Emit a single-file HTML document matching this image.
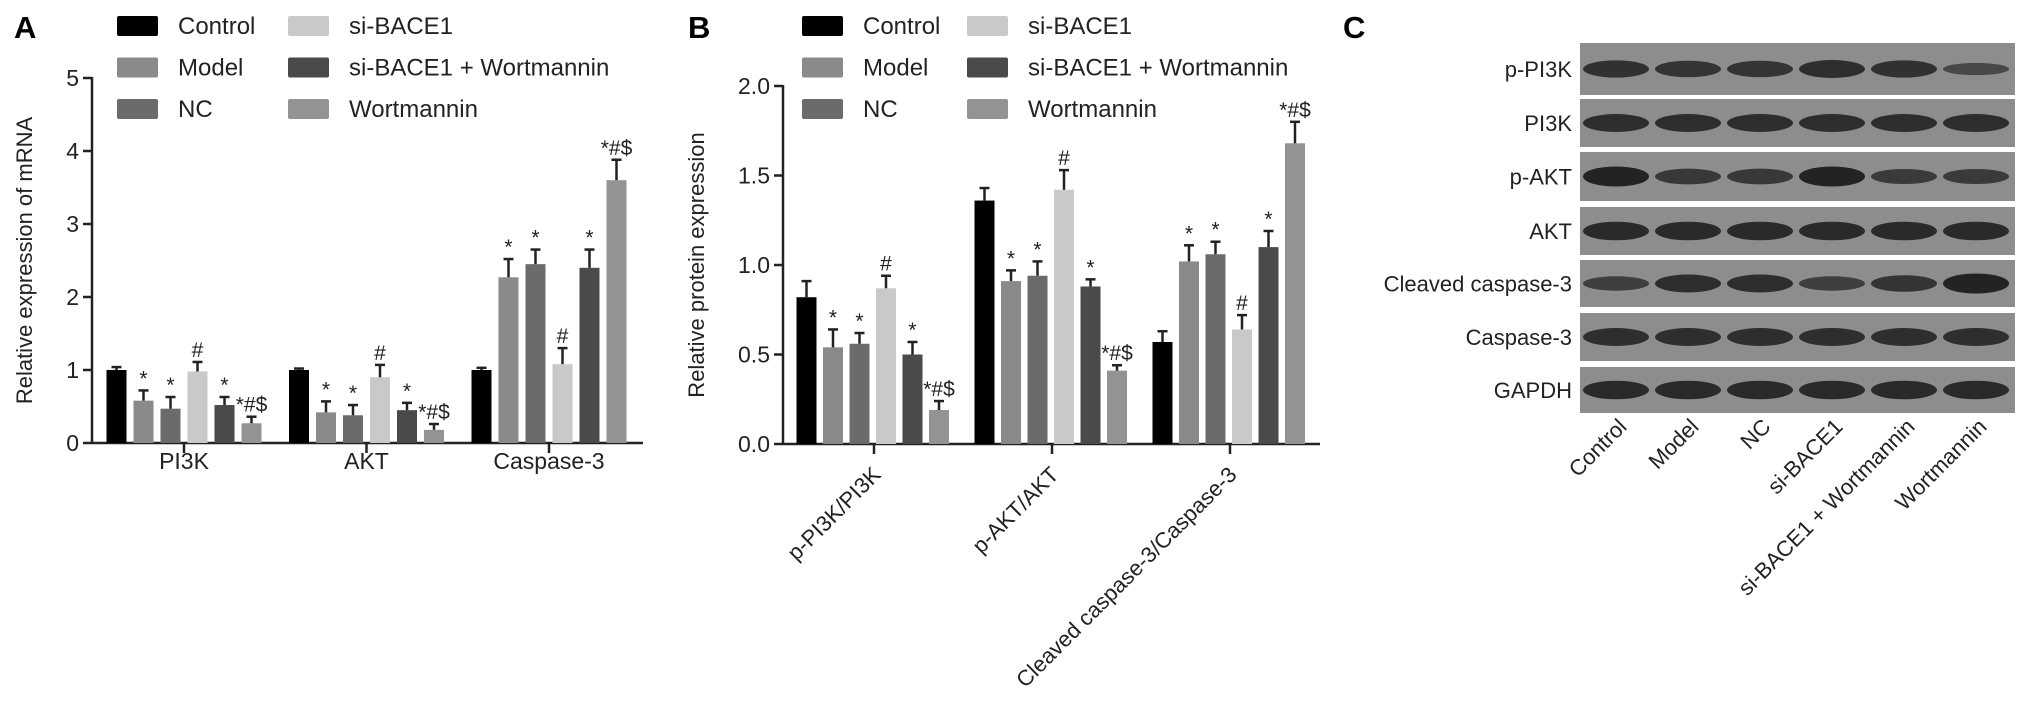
<!DOCTYPE html>
<html><head><meta charset="utf-8"><style>
html,body{margin:0;padding:0;background:#fff;}
svg{display:block;font-family:"Liberation Sans",Arial,sans-serif;}
</style></head><body>
<svg id="fig" width="2031" height="711" viewBox="0 0 2031 711" xmlns="http://www.w3.org/2000/svg"></svg>
<script>
const groups = ["Control","Model","NC","si-BACE1","si-BACE1 + Wortmannin","Wortmannin"];
const colors = ["#000000","#8a8a8a","#6b6b6b","#c9c9c9","#4a4a4a","#939393"];
const catsA = ["PI3K","AKT","Caspase-3"];
const valsA = [[1.0,0.58,0.47,0.98,0.52,0.27],[1.0,0.42,0.38,0.9,0.45,0.18],[1.0,2.27,2.45,1.08,2.4,3.6]];
const errA = [[0.04,0.14,0.16,0.13,0.11,0.09],[0.02,0.15,0.14,0.17,0.1,0.08],[0.03,0.25,0.2,0.22,0.25,0.28]];
const ticksA = [0,1,2,3,4,5];
const catsB = ["p-PI3K/PI3K","p-AKT/AKT","Cleaved caspase-3/Caspase-3"];
const valsB = [[0.82,0.54,0.56,0.87,0.5,0.19],[1.36,0.91,0.94,1.42,0.88,0.41],[0.57,1.02,1.06,0.64,1.1,1.68]];
const errB = [[0.09,0.1,0.06,0.07,0.07,0.05],[0.07,0.06,0.08,0.11,0.04,0.03],[0.06,0.09,0.07,0.08,0.09,0.12]];
const ticksB = [0.0,0.5,1.0,1.5,2.0];
const marks = ["","*","*","#","*","*#$"];
const blotRows = ["p-PI3K","PI3K","p-AKT","AKT","Cleaved caspase-3","Caspase-3","GAPDH"];
const bandInt = [[0.8,0.75,0.75,0.85,0.8,0.45],[0.85,0.85,0.85,0.85,0.85,0.85],[1.0,0.7,0.7,1.0,0.65,0.65],[0.9,0.9,0.9,0.9,0.9,0.9],[0.6,0.85,0.85,0.6,0.75,1.0],[0.85,0.85,0.85,0.85,0.85,0.85],[0.9,0.9,0.9,0.9,0.9,0.9]];

const NS="http://www.w3.org/2000/svg";
const svg=document.getElementById('fig');
function el(tag,attrs,parent,text){const e=document.createElementNS(NS,tag);for(const k in attrs)e.setAttribute(k,attrs[k]);if(text!==undefined)e.textContent=text;(parent||svg).appendChild(e);return e;}

function panel(cfg){
  const g=el('g',{});
  
  
  const y=v=>cfg.y0-(v/cfg.max)*(cfg.y0-cfg.yTop);
  const L=el('text',{x:cfg.letterX,y:38,'font-size':31,'font-weight':'bold'},g,cfg.letter);
  
  
  groups.forEach((gname,i)=>{
    const col=Math.floor(i/3),row=i%3;
    const sx=col?cfg.leg2:cfg.leg1, cy=26+row*41.5;
    const item=el('g',{},g);
    
    
    el('rect',{x:sx,y:cy-10,width:41,height:20,rx:2,fill:colors[i]},item);
    el('text',{x:sx+61,y:cy+8,'font-size':24,fill:'#222'},item,gname);
  });
  const ax=el('g',{stroke:'#222','stroke-width':2.5,fill:'none'},g);
  
  
  el('line',{x1:cfg.axX,y1:cfg.yTop-1,x2:cfg.axX,y2:cfg.y0},ax);
  el('line',{x1:cfg.axX,y1:cfg.y0,x2:cfg.axEnd,y2:cfg.y0},ax);
  cfg.ticks.forEach(t=>{
    el('line',{x1:cfg.axX-9,y1:y(t),x2:cfg.axX,y2:y(t)},ax);
    const tl=el('text',{x:cfg.axX-13,y:y(t)+8,'font-size':23,'text-anchor':'end',fill:'#222'},g,cfg.fmt(t));
    
    
  });
  const yt=el('text',{x:0,y:0,'font-size':22,'text-anchor':'middle',fill:'#222',transform:`translate(${cfg.titleX},${(cfg.y0+cfg.yTop)/2}) rotate(-90)`},g,cfg.title);
  
  
  cfg.cats.forEach((c,ci)=>{
    const cx=cfg.c0+ci*cfg.gstep;
    el('line',{x1:cx,y1:cfg.y0,x2:cx,y2:cfg.y0+10},ax);
    let lab;
    if(cfg.rot){
      lab=el('text',{x:0,y:0,'font-size':22,'text-anchor':'end',fill:'#222',transform:`translate(${cx+8},${cfg.y0+32}) rotate(-45)`},g,c);
    } else {
      lab=el('text',{x:cx,y:cfg.y0+26,'font-size':23,'text-anchor':'middle',fill:'#222'},g,c);
    }
    
    
    cfg.vals[ci].forEach((v,bi)=>{
      const bx=cx-77.5+bi*cfg.bstep;
      const bar=el('rect',{x:bx,y:y(v),width:20,height:cfg.y0-y(v),fill:colors[bi]},g);
      
      
      const top=y(v+cfg.err[ci][bi]);
      const eb=el('g',{stroke:'#222','stroke-width':2.5},g);
      
      
      el('line',{x1:bx+10,y1:y(v),x2:bx+10,y2:top},eb);
      el('line',{x1:bx+5,y1:top,x2:bx+15,y2:top},eb);
      if(marks[bi]){
        const m=el('text',{x:bx+10,y:top-5,'font-size':21,'text-anchor':'middle',fill:'#222'},g,marks[bi]);
        
        
      }
    });
  });
}
panel({name:'panel-a-mrna-chart',letter:'A',letterX:14,leg1:117,leg2:288,axX:92,axEnd:643,y0:443,yTop:78,max:5,ticks:ticksA,fmt:t=>String(t),title:'Relative expression of mRNA',titleX:32,cats:catsA,vals:valsA,err:errA,c0:184,gstep:182.5,bstep:27,rot:false});
panel({name:'panel-b-protein-chart',letter:'B',letterX:688,leg1:802,leg2:967,axX:783,axEnd:1320,y0:444,yTop:86,max:2,ticks:ticksB,fmt:t=>t.toFixed(1),title:'Relative protein expression',titleX:704,cats:catsB,vals:valsB,err:errB,c0:874,gstep:178,bstep:26.5,rot:true});

const gc=el('g',{});


const LC=el('text',{x:1343,y:38,'font-size':31,'font-weight':'bold'},gc,'C');


const rowTops=[43,99,152,207,260,313,367], rowH=[52,48,49,48,47,48,46];
const laneX=[1616,1688,1760,1832,1904,1976];
blotRows.forEach((r,ri)=>{
  const rg=el('g',{},gc);
  
  
  el('rect',{x:1580,y:rowTops[ri],width:435,height:rowH[ri],fill:'#8d8d8d'},rg);
  const cy=rowTops[ri]+rowH[ri]/2;
  laneX.forEach((lx,li)=>{
    const k=bandInt[ri][li];
    el('ellipse',{cx:lx,cy:cy,rx:33,ry:3+k*7,fill:`rgba(30,30,30,${0.35+k*0.6})`},rg);
  });
  el('text',{x:1572,y:cy+8,'font-size':22,'text-anchor':'end',fill:'#222'},rg,r);
});
groups.forEach((gname,li)=>{
  const t=el('text',{x:0,y:0,'font-size':22,'text-anchor':'end',fill:'#222',transform:`translate(${laneX[li]+12},${428}) rotate(-45)`},gc,gname);
  
  
});
</script>
</body></html>
